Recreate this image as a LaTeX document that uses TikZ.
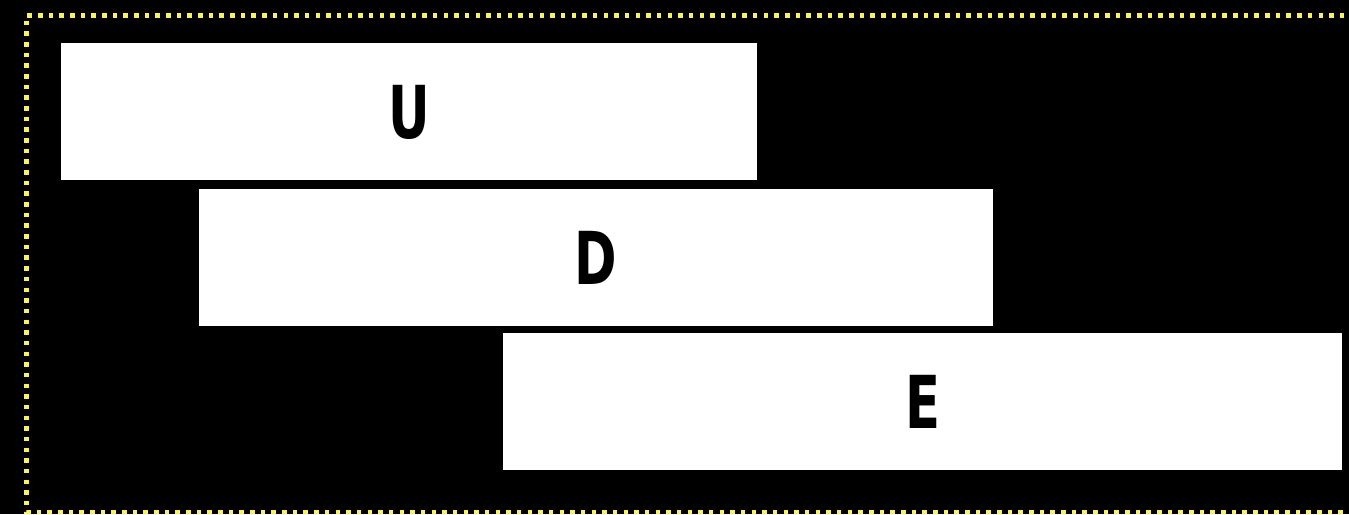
\documentclass[tikz,border=0pt]{standalone}
\usepackage{fontspec}
\newfontfamily\lblfont{DejaVu Sans Condensed}
\definecolor{dotyellow}{RGB}{250,240,100}
\newcommand{\narrowlbl}[1]{\scalebox{0.78}[1]{#1}}
\begin{document}
\begin{tikzpicture}[x=1pt,y=-1pt,
  bar/.style={fill=white,draw=none,inner sep=0pt,anchor=north west,
    text height=53pt,text depth=0pt,
    font=\lblfont\bfseries\fontsize{73}{73}\selectfont,text=black}]
\fill[black] (0,0) rectangle (1349,514);
\useasboundingbox (0,0) rectangle (1349,514);
\draw[dotyellow,line width=4.5pt,dash pattern=on 4.5pt off 6.17pt] (1355,15.5) -- (26.5,15.5) -- (26.5,512) -- (1355,512);
\node[bar,minimum width=696pt,minimum height=137pt] (u) at (61,43) {\narrowlbl{U}};
\node[bar,minimum width=794pt,minimum height=137pt] (d) at (199,189) {\narrowlbl{D}};
\node[bar,minimum width=839pt,minimum height=137pt] (e) at (503,333) {\narrowlbl{E}};
\end{tikzpicture}
\end{document}
